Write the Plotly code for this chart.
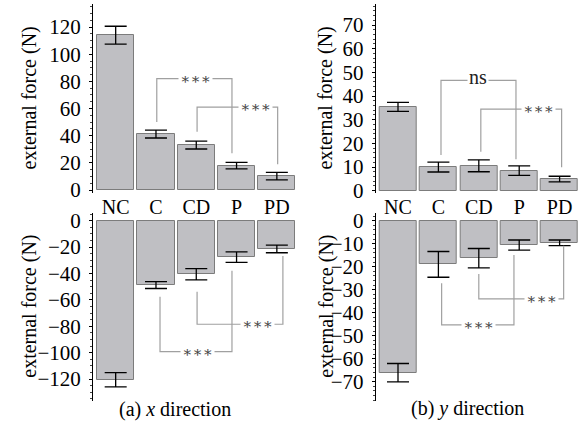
import plotly.graph_objects as go

categories = ["NC", "C", "CD", "P", "PD"]

# (a) x direction
x_pos_mean = [114.0, 41.2, 33.1, 18.0, 10.2]
x_pos_err = [6.6, 2.9, 2.9, 2.4, 2.8]
x_neg_mean = [-120.5, -48.8, -40.6, -27.6, -21.4]
x_neg_err = [5.4, 2.6, 4.2, 4.0, 2.9]

# (b) y direction
y_pos_mean = [35.4, 10.0, 10.5, 8.5, 4.9]
y_pos_err = [1.9, 2.1, 2.5, 2.0, 1.2]
y_neg_mean = [-66.1, -19.0, -16.3, -10.6, -9.6]
y_neg_err = [4.0, 5.6, 4.2, 2.2, 1.2]

W, H = 587, 421
FONT = "Liberation Serif"
BAR_FILL = "#bfbfc3"
BAR_LINE = "#7c7c7c"
BRACKET = "#a0a0a0"

xs = list(range(len(categories)))

def px_x(a, b):
    return [a / W, b / W]

def px_y(top, bottom):
    return [1 - bottom / H, 1 - top / H]

panels = [
    (x_pos_mean, x_pos_err, "x", "y", px_x(93, 297), px_y(4, 193), [-0.563, 4.5], [-2.2, 137.0], 20, 5, True),
    (x_neg_mean, x_neg_err, "x3", "y3", px_x(93, 297), px_y(213, 400.5), [-0.563, 4.5], [-136.3, 5.84], 20, 5, False),
    (y_pos_mean, y_pos_err, "x2", "y2", px_x(375.7, 579), px_y(4, 193), [-0.552, 4.48], [-0.97, 78.88], 10, 2, True),
    (y_neg_mean, y_neg_err, "x4", "y4", px_x(375.7, 579), px_y(213, 400.5), [-0.552, 4.48], [-78.2, 3.35], 10, 2, False),
]

fig = go.Figure()
layout = {}
for mean, err, xa, ya, xd, yd, xr, yr, dt, mn, showcats in panels:
    fig.add_trace(go.Bar(
        x=xs, y=mean, xaxis=xa, yaxis=ya, width=0.92,
        marker=dict(color=BAR_FILL, line=dict(color=BAR_LINE, width=1)),
        error_y=dict(type="data", array=err, color="black", thickness=1.3, width=11),
        showlegend=False,
    ))
    xkey = "xaxis" + xa[1:]
    ykey = "yaxis" + ya[1:]
    layout[xkey] = dict(
        domain=xd, range=xr, anchor=ya, showline=False, showgrid=False, zeroline=False,
        ticks="", tickvals=xs, ticktext=categories, showticklabels=showcats,
        tickfont=dict(family=FONT, size=20, color="black"), automargin=False,
    )
    layout[ykey] = dict(
        domain=yd, range=yr, anchor=xa, showline=True, linecolor="black", linewidth=1,
        showgrid=False, zeroline=False, ticks="outside", ticklen=3, tickcolor="black",
        tick0=0, dtick=dt, ticklabelstandoff=4, automargin=False,
        minor=dict(ticks="outside", ticklen=2, dtick=mn, tickcolor="#444"),
        tickfont=dict(family=FONT, size=21, color="black"),
    )

fig.update_layout(**layout)

# significance brackets: (xaxis, yaxis, x_left, x_right, y_horizontal, y_left_end, y_right_end, label, label_x)
brackets = [
    ("x", "y", 1.02, 2.886, 82, 50, 27, "∗∗∗", 1.99),
    ("x", "y", 2.02, 4.02, 61, 43, 19, "∗∗∗", 3.48),
    ("x3", "y3", 1.10, 2.886, -99.3, -57.6, -37.9, "∗∗∗", 2.02),
    ("x3", "y3", 2.02, 4.15, -78.5, -53.8, -26.8, "∗∗∗", 3.53),
    ("x2", "y2", 1.064, 2.92, 46.6, 15.1, 13.3, "ns", 1.98),
    ("x2", "y2", 2.05, 4.05, 34.5, 16.5, 9.9, "∗∗∗", 3.47),
    ("x4", "y4", 1.08, 2.87, -45.3, -27.2, -14.9, "∗∗∗", 1.98),
    ("x4", "y4", 2.0, 4.1, -34.0, -23.2, -10.9, "∗∗∗", 3.56),
]
for xa, ya, xl, xr_, yh, yl, yr_, lab, lx in brackets:
    fig.add_shape(type="path", xref=xa, yref=ya,
                  path=f"M {xl},{yl} L {xl},{yh} L {xr_},{yh} L {xr_},{yr_}",
                  line=dict(color=BRACKET, width=1.2))
    if lab == "ns":
        font = dict(family=FONT, size=20, color="#222")
    else:
        font = dict(family="DejaVu Serif", size=15, color="#444")
    fig.add_annotation(x=lx, y=yh, xref=xa, yref=ya, text=lab, showarrow=False,
                       xanchor="center", yanchor="middle",
                       bgcolor="white", font=font, borderpad=1, yshift=0 if lab != "ns" else 3)

# axis titles
for xp, ytop, ybot in [(29, 4, 193), (30, 213, 400.5), (325, 4, 193), (327, 213, 400.5)]:
    fig.add_annotation(x=xp / W, y=1 - (ytop + ybot) / 2 / H, xref="paper", yref="paper",
                       xanchor="center", yanchor="middle",
                       text="external force (N)", textangle=-90, showarrow=False,
                       font=dict(family=FONT, size=20, color="black"))

# captions
fig.add_annotation(x=175 / W, y=1 - 409 / H, xref="paper", yref="paper",
                   xanchor="center", yanchor="middle",
                   text="(a) <i>x</i> direction", showarrow=False,
                   font=dict(family=FONT, size=20, color="black"))
fig.add_annotation(x=467.5 / W, y=1 - 408 / H, xref="paper", yref="paper",
                   xanchor="center", yanchor="middle",
                   text="(b) <i>y</i> direction", showarrow=False,
                   font=dict(family=FONT, size=20, color="black"))

fig.update_layout(
    template="none",
    font=dict(family=FONT, color="black"),
    width=W, height=H, margin=dict(l=0, r=0, t=0, b=0, pad=0),
    paper_bgcolor="white", plot_bgcolor="white", bargap=0,
)

fig.write_html("out.html")
